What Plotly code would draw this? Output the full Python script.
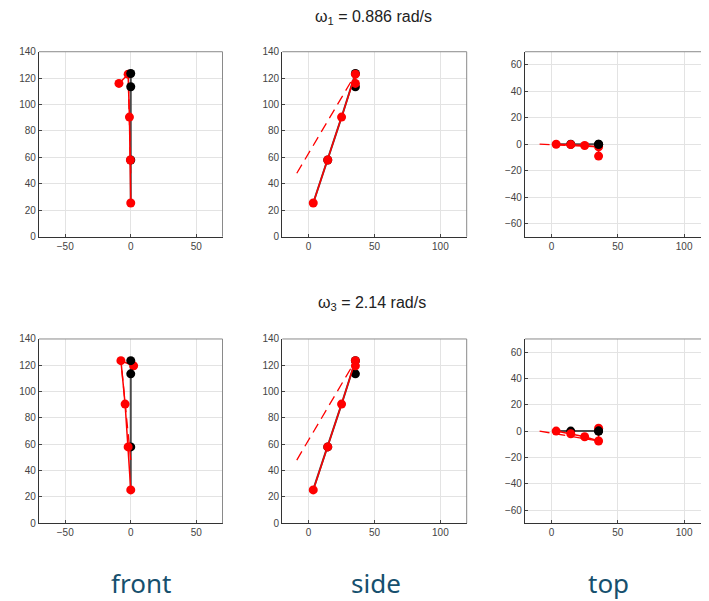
import plotly.graph_objects as go

# ---------------- data ----------------
# undeformed structure nodes (lateral, forward, height)
node_lat = [0, 0, 0, 0, 0]
node_fwd = [3.5, 14.5, 25, 35.5, 35.5]
node_h = [25.5, 58, 90.5, 123.5, 113.5]
black_marker_idx = [1, 3, 4]

# mode 1 deformed shape
mode1_lat = [0, -0.3, -1, -2, -9]
mode1_fwd = [3.5, 14.5, 25, 35.5, 35.5]
mode1_h = [25.5, 58, 90.5, 123, 116]

# mode 3 deformed shape
mode3_lat = [0, -2, -4.3, -7.5, 2.2]
mode3_fwd = [3.5, 14.5, 25, 35.5, 35.5]
mode3_h = [25.3, 58, 90.5, 123.5, 119.6]

# fixed anchor of the dashed member, connected to node index 3
anchor_lat = 0
anchor_fwd = -9
anchor_h = 48
anchor_node = 3

titles = ["ω<sub>1</sub> = 0.886 rad/s", "ω<sub>3</sub> = 2.14 rad/s"]
view_labels = ["front", "side", "top"]

front_xticks = [-50, 0, 50]
side_xticks = [0, 50, 100]
height_yticks = [0, 20, 40, 60, 80, 100, 120, 140]
top_yticks = [-60, -40, -20, 0, 20, 40, 60]

# ---------------- figure ----------------
W, H = 709, 601
OFF = 8  # page body margin
fig = go.Figure()

def px_x(p):
    return (p - OFF) / W

def px_y(p):
    return 1 - (p - OFF) / H

row_dom = [[px_y(235.2), px_y(46.5)], [px_y(527.6), px_y(339.6)]]
col_dom = [[px_x(39), px_x(222.5)], [px_x(282.3), px_x(466.7)], [px_x(525), 1.0]]
top_right_units = (W + OFF - 525) / 1.326
col_xrange = [[-70, 70], [-20, 120], [-20, -20 + top_right_units]]
col_yrange = [[0, 140], [0, 140], [-70, 70]]
col_xticks = [front_xticks, side_xticks, side_xticks]
col_yticks = [height_yticks, height_yticks, top_yticks]

modes = [(mode1_lat, mode1_fwd, mode1_h), (mode3_lat, mode3_fwd, mode3_h)]

def view(col, lat, fwd, h):
    if col == 0:
        return lat, h
    if col == 1:
        return fwd, h
    return fwd, lat

BLACK_LINE = "#4a4a4a"
RED = "#ff0000"
MS = 9
shapes = []
k = 0
for r in range(2):
    dl, df, dh = modes[r]
    for c in range(3):
        k += 1
        xa = "x" if k == 1 else f"x{k}"
        ya = "y" if k == 1 else f"y{k}"
        # undeformed black line
        bx, by = view(c, node_lat, node_fwd, node_h)
        fig.add_trace(go.Scatter(x=bx, y=by, xaxis=xa, yaxis=ya, mode="lines",
                                 line=dict(color=BLACK_LINE, width=2), hoverinfo="skip"))
        under_idx = black_marker_idx if c == 1 else [i for i in black_marker_idx if i not in (3, 4)]
        over_idx = [] if c == 1 else [i for i in black_marker_idx if i in (3, 4)]
        fig.add_trace(go.Scatter(x=[bx[i] for i in under_idx], y=[by[i] for i in under_idx],
                                 xaxis=xa, yaxis=ya, mode="markers",
                                 marker=dict(color="black", size=MS), hoverinfo="skip"))
        # dashed member
        ax_, ay_ = view(c, [anchor_lat, dl[anchor_node]], [anchor_fwd, df[anchor_node]],
                        [anchor_h, dh[anchor_node]])
        fig.add_trace(go.Scatter(x=ax_, y=ay_, xaxis=xa, yaxis=ya, mode="lines",
                                 line=dict(color=RED, width=1.3, dash="10px,6px"), hoverinfo="skip"))
        # deformed red
        rx, ry = view(c, dl, df, dh)
        fig.add_trace(go.Scatter(x=rx, y=ry, xaxis=xa, yaxis=ya, mode="lines+markers",
                                 line=dict(color=RED, width=1.5),
                                 marker=dict(color=RED, size=MS), hoverinfo="skip"))
        if over_idx:
            fig.add_trace(go.Scatter(x=[bx[i] for i in over_idx], y=[by[i] for i in over_idx],
                                     xaxis=xa, yaxis=ya, mode="markers",
                                     marker=dict(color="black", size=MS), hoverinfo="skip"))
        axis_common = dict(showgrid=True, gridcolor="#e3e3e3", gridwidth=1, zeroline=False,
                           showline=True, linecolor="#333333", linewidth=1.3, mirror=False,
                           ticks="inside", ticklen=3, tickcolor="#444444",
                           tickfont=dict(family="Liberation Sans, Arial", size=10, color="#444444"),
                           fixedrange=True)
        fig.layout[("xaxis" if k == 1 else f"xaxis{k}")] = dict(
            domain=col_dom[c], anchor=ya, range=col_xrange[c],
            tickvals=col_xticks[c], **axis_common)
        fig.layout[("yaxis" if k == 1 else f"yaxis{k}")] = dict(
            domain=row_dom[r], anchor=xa, range=col_yrange[c],
            tickvals=col_yticks[c], **axis_common)
        # top & right box edges
        shapes.append(dict(type="line", xref=f"{xa} domain", yref=f"{ya} domain",
                           x0=0, x1=1, y0=1, y1=1, line=dict(color="#8a8a8a", width=1)))
        shapes.append(dict(type="line", xref=f"{xa} domain", yref=f"{ya} domain",
                           x0=1, x1=1, y0=0, y1=1, line=dict(color="#8a8a8a", width=1)))

annotations = []
title_pos = [(373, 12), (372, 303)]
for t, (tx, ty) in zip(titles, title_pos):
    annotations.append(dict(text=t, x=px_x(tx), y=px_y(ty), xref="paper", yref="paper",
                            showarrow=False, xanchor="center", yanchor="middle",
                            font=dict(family="Liberation Sans, Arial", size=16, color="#222222")))
label_x = [141, 376, 608]
for lab, lx in zip(view_labels, label_x):
    annotations.append(dict(text=lab, x=px_x(lx), y=px_y(589), xref="paper", yref="paper",
                            showarrow=False, xanchor="center", yanchor="middle",
                            font=dict(family="Noto Sans, Open Sans", size=26, color="#16506e")))

fig.update_layout(width=W, height=H, margin=dict(l=0, r=0, t=0, b=0),
                  paper_bgcolor="white", plot_bgcolor="white", showlegend=False,
                  shapes=shapes, annotations=annotations)

fig.write_html("out.html")
